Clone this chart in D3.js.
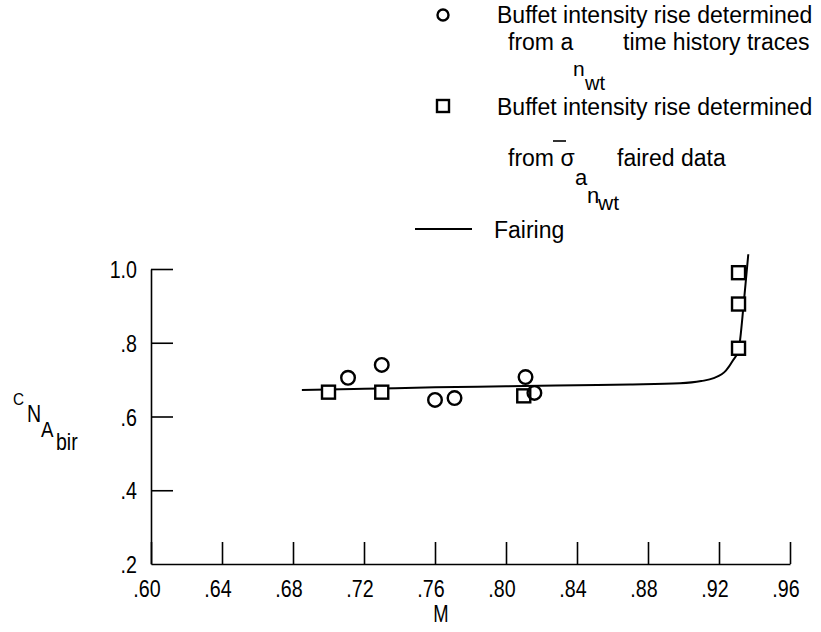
<!DOCTYPE html>
<html>
<head>
<meta charset="utf-8">
<script src="https://cdn.jsdelivr.net/npm/d3@7"></script>
<style>
body { margin: 0; background: #fff; }
svg text { font-family: "Liberation Sans", Arial, sans-serif; fill: #000; }
</style>
</head>
<body>
<svg id="chart" width="821" height="632"></svg>
<script>
// tick values
var xTicks = [0.60, 0.64, 0.68, 0.72, 0.76, 0.80, 0.84, 0.88, 0.92, 0.96];
var xTickLabels = [".60", ".64", ".68", ".72", ".76", ".80", ".84", ".88", ".92", ".96"];
var yTicks = [0.2, 0.4, 0.6, 0.8, 1.0];
var yTickLabels = [".2", ".4", ".6", ".8", "1.0"];

// circles: from a_n_wt time history traces
var circleM = [0.711, 0.730, 0.760, 0.771, 0.811, 0.816];
var circleC = [0.705, 0.740, 0.645, 0.650, 0.707, 0.664];

// squares: from sigma-bar faired data
var squareM = [0.700, 0.730, 0.810, 0.931, 0.931, 0.931];
var squareC = [0.666, 0.666, 0.656, 0.785, 0.905, 0.990];

// fairing curve
var fairM = [0.685, 0.72, 0.76, 0.80, 0.84, 0.87, 0.898, 0.91, 0.917, 0.924, 0.928, 0.931, 0.934, 0.9365];
var fairC = [0.672, 0.675, 0.679, 0.682, 0.685, 0.687, 0.690, 0.696, 0.704, 0.725, 0.753, 0.78, 0.91, 1.04];

var svg = d3.select("#chart");
var x = d3.scaleLinear().domain([0.60, 0.96]).range([151, 790]);
var y = d3.scaleLinear().domain([0.2, 1.0]).range([564, 269]);

// narrow-looking text: a normal face squeezed sideways
function label(g, px, py, size, sx, txt, anchor) {
	return g.append("text")
		.attr("transform", "translate(" + px + "," + py + ") scale(" + sx + ",1)")
		.attr("font-size", size)
		.attr("text-anchor", anchor || "start")
		.text(txt);
}

// axes
var xAxis = d3.axisTop(x).tickValues(xTicks).tickSize(22).tickFormat("").tickSizeOuter(0);
svg.append("g").attr("transform", "translate(0,564)").call(xAxis);
var yAxis = d3.axisRight(y).tickValues(yTicks.slice(1)).tickSize(22).tickFormat("").tickSizeOuter(0);
svg.append("g").attr("transform", "translate(151,0)").call(yAxis);
svg.selectAll(".domain").attr("stroke", "#000").attr("stroke-width", 1.6);
svg.selectAll(".tick line").attr("stroke", "#000").attr("stroke-width", 1.6);

// tick labels
xTicks.forEach(function(d, i) {
	label(svg, x(d) - 4, 597, 24, 0.82, xTickLabels[i], "middle");
});
yTicks.forEach(function(d, i) {
	label(svg, 137, y(d) + 9, 24, 0.82, yTickLabels[i], "end");
});

label(svg, 441, 622, 23, 0.8, "M", "middle");

// y label C_N_A_bir
label(svg, 13, 405, 17, 0.9, "C");
label(svg, 27, 422, 23, 0.85, "N");
label(svg, 41, 437, 22, 0.85, "A");
label(svg, 56, 450, 23, 0.85, "bir");

// fairing
var fair = fairM.map(function(m, i) { return [m, fairC[i]]; });
var line = d3.line()
	.x(function(d) { return x(d[0]); })
	.y(function(d) { return y(d[1]); })
	.curve(d3.curveMonotoneX);
svg.append("path").datum(fair)
	.attr("d", line)
	.attr("fill", "none")
	.attr("stroke", "#000")
	.attr("stroke-width", 2);

// squares
svg.selectAll(".sq").data(squareM).enter().append("rect")
	.attr("x", function(d) { return x(d) - 6.5; })
	.attr("y", function(d, i) { return y(squareC[i]) - 6.5; })
	.attr("width", 13).attr("height", 13)
	.attr("fill", "#fff")
	.attr("stroke", "#000")
	.attr("stroke-width", 2.4);

// circles
svg.selectAll(".ci").data(circleM).enter().append("circle")
	.attr("cx", function(d) { return x(d); })
	.attr("cy", function(d, i) { return y(circleC[i]); })
	.attr("r", 6.8)
	.attr("fill", "none")
	.attr("stroke", "#000")
	.attr("stroke-width", 2.4);

// legend
var lg = svg.append("g");
var fs = 23, sq = 1;
lg.append("circle").attr("cx", 443).attr("cy", 15).attr("r", 5.5)
	.attr("fill", "none").attr("stroke", "#000").attr("stroke-width", 2.4);
label(lg, 497, 23, fs, sq, "Buffet intensity rise determined");
label(lg, 508, 50, fs, sq, "from a");
label(lg, 573, 76, 21, sq, "n");
label(lg, 585, 90, 20, sq, "wt");
label(lg, 623, 50, fs, sq, "time history traces");

lg.append("rect").attr("x", 437).attr("y", 100).attr("width", 12).attr("height", 12)
	.attr("fill", "none").attr("stroke", "#000").attr("stroke-width", 2.4);
label(lg, 497, 115, fs, sq, "Buffet intensity rise determined");
label(lg, 508, 166, fs, sq, "from \u03c3");
lg.append("line").attr("x1", 553).attr("x2", 566).attr("y1", 141).attr("y2", 141)
	.attr("stroke", "#000").attr("stroke-width", 1.6);
label(lg, 575, 185, 22, sq, "a");
label(lg, 587, 203, 22, sq, "n");
label(lg, 598, 210, 21, sq, "wt");
label(lg, 617, 166, fs, sq, "faired data");

lg.append("line").attr("x1", 415).attr("x2", 472).attr("y1", 229).attr("y2", 229)
	.attr("stroke", "#000").attr("stroke-width", 2);
label(lg, 494, 238, fs, sq, "Fairing");
</script>
</body>
</html>
